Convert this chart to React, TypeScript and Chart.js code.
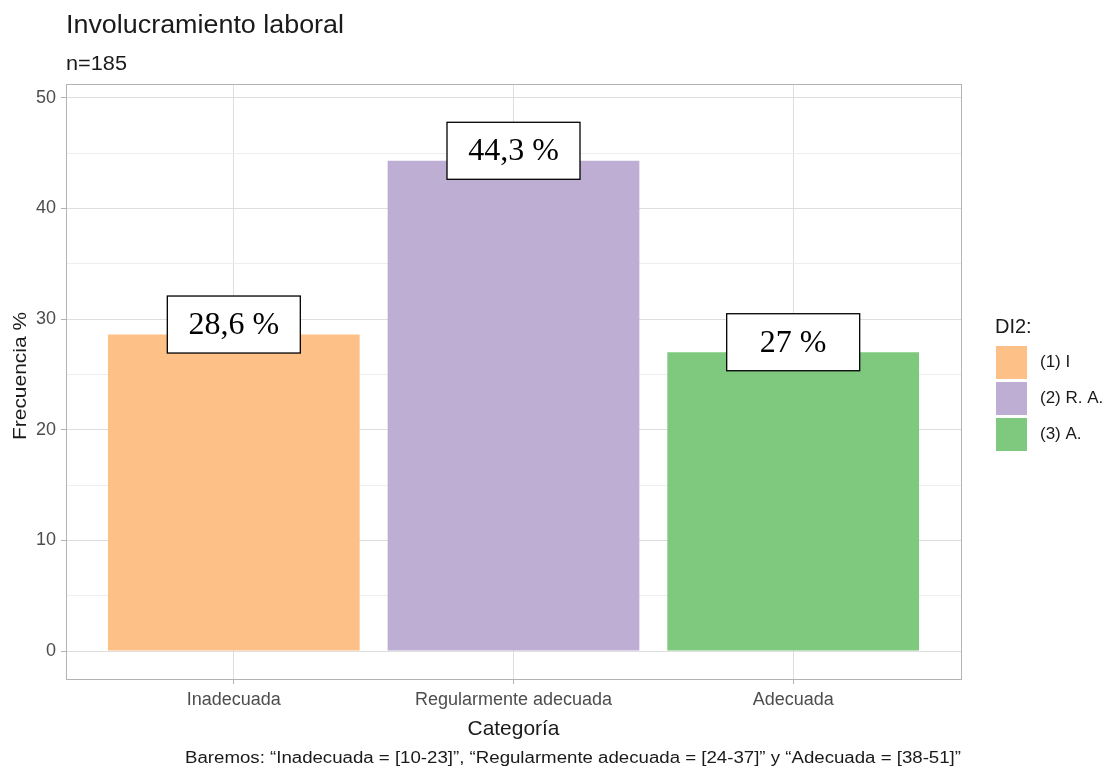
import { useEffect, useRef } from "react";
import { Chart, registerables } from "chart.js";

Chart.register(...registerables);

const title = "Involucramiento laboral";
const subtitle = "n=185";
const categories = ["Inadecuada", "Regularmente adecuada", "Adecuada"];
const values = [28.6, 44.3, 27.0];
const legendTitle = "DI2:";
const legendLabels = ["(1) I", "(2) R. A.", "(3) A."];
const barColors = ["#FDC086", "#BEAED4", "#7FC97F"];
const yTicks = [0, 5, 10, 15, 20, 25, 30, 35, 40, 45, 50];
const xTitle = "Categoría";
const yTitle = "Frecuencia %";
const caption =
  "Baremos: \u201CInadecuada = [10-23]\u201D, \u201CRegularmente adecuada = [24-37]\u201D y \u201CAdecuada = [38-51]\u201D";

const SANS = '"Liberation Sans", Arial, sans-serif';
const SERIF = '"Liberation Serif", "Times New Roman", serif';

function drawText(
  ctx: CanvasRenderingContext2D,
  s: string,
  x: number,
  y: number,
  font: string,
  color: string,
  align: CanvasTextAlign,
  width?: number,
  baseline: CanvasTextBaseline = "alphabetic"
) {
  ctx.save();
  ctx.font = font;
  ctx.fillStyle = color;
  ctx.textBaseline = baseline;
  ctx.textAlign = align;
  const w = ctx.measureText(s).width;
  const sx = width ? width / w : 1;
  ctx.translate(x, y);
  ctx.scale(sx, 1);
  ctx.fillText(s, 0, 0);
  ctx.restore();
}

const decorPlugin = {
  id: "decor",
  afterDatasetsDraw(chart: any) {
    const ctx: CanvasRenderingContext2D = chart.ctx;
    const meta = chart.getDatasetMeta(0);
    meta.data.forEach((el: any, i: number) => {
      const cx = el.x;
      const cy = el.y - 10;
      const w = 133;
      const h = 57;
      ctx.save();
      ctx.fillStyle = "#ffffff";
      ctx.strokeStyle = "#000000";
      ctx.lineWidth = 1.3;
      ctx.fillRect(cx - w / 2, cy - h / 2, w, h);
      ctx.strokeRect(cx - w / 2, cy - h / 2, w, h);
      ctx.restore();
      const label = String(values[i]).replace(".", ",") + " %";
      drawText(ctx, label, cx, cy + 1, `32px ${SERIF}`, "#000000", "center", undefined, "middle");
    });
  },
  afterDraw(chart: any) {
    const ctx: CanvasRenderingContext2D = chart.ctx;
    const a = chart.chartArea;
    // panel border
    ctx.save();
    ctx.strokeStyle = "#b3b3b3";
    ctx.lineWidth = 1;
    ctx.strokeRect(Math.round(a.left) + 0.5, Math.round(a.top) + 0.5, Math.round(a.right - a.left), Math.round(a.bottom - a.top));
    ctx.restore();

    // title & subtitle
    drawText(ctx, title, a.left, 33, `25px ${SANS}`, "#1a1a1a", "left", 278);
    drawText(ctx, subtitle, a.left, 70, `20px ${SANS}`, "#1a1a1a", "left", 61);

    // axis titles
    drawText(ctx, xTitle, (a.left + a.right) / 2, 735, `21px ${SANS}`, "#1a1a1a", "center", 92);
    ctx.save();
    ctx.translate(26, 376);
    ctx.rotate(-Math.PI / 2);
    drawText(ctx, yTitle, 0, 0, `19px ${SANS}`, "#1a1a1a", "center", 128);
    ctx.restore();

    // caption
    drawText(ctx, caption, a.right, 763, `16px ${SANS}`, "#1a1a1a", "right", 776);

    // legend
    drawText(ctx, legendTitle, 995, 333, `20px ${SANS}`, "#1a1a1a", "left");
    legendLabels.forEach((lab, i) => {
      const top = 346 + i * 36;
      ctx.save();
      ctx.fillStyle = barColors[i];
      ctx.fillRect(996, top, 31, 33);
      ctx.restore();
      drawText(ctx, lab, 1040, top + 16.5, `17px ${SANS}`, "#1a1a1a", "left", undefined, "middle");
    });
  },
};

export default function App() {
  const ref = useRef<HTMLCanvasElement | null>(null);

  useEffect(() => {
    document.body.style.margin = "0";
    const canvas = ref.current;
    if (!canvas) return;
    const chart = new Chart(canvas, {
      type: "bar",
      data: {
        datasets: [
          {
            data: values.map((v, i) => ({ x: i, y: v })),
            backgroundColor: barColors,
            borderWidth: 0,
            barPercentage: 0.9,
            categoryPercentage: 1,
          },
        ],
      },
      options: {
        animation: false,
        responsive: false,
        devicePixelRatio: 1,
        events: [],
        layout: { padding: { left: 0, right: 145, top: 84, bottom: 0 } },
        plugins: {
          legend: { display: false },
          title: { display: false },
          tooltip: { enabled: false },
        },
        scales: {
          x: {
            type: "linear",
            min: -0.6,
            max: 2.6,
            offset: false,
            afterBuildTicks: (s: any) => {
              s.ticks = categories.map((_, i) => ({ value: i }));
            },
            afterFit: (s: any) => {
              s.height = 90;
            },
            ticks: {
              callback: (v: any) => categories[v] ?? "",
              font: { family: SANS, size: 18 },
              color: "#4d4d4d",
              padding: 5,
              maxRotation: 0,
              autoSkip: false,
            },
            grid: {
              offset: false,
              color: "#dedede",
              tickColor: "#b3b3b3",
              tickLength: 5,
              lineWidth: 1,
            },
            border: { display: false },
          },
          y: {
            type: "linear",
            min: -2.53,
            max: 51.24,
            afterBuildTicks: (s: any) => {
              s.ticks = yTicks.map((v) => ({ value: v }));
            },
            afterFit: (s: any) => {
              s.width = 66;
            },
            ticks: {
              callback: (v: any) => (v % 10 === 0 ? String(v) : ""),
              font: { family: SANS, size: 18 },
              color: "#4d4d4d",
              padding: 5,
            },
            grid: {
              color: (c: any) => (c.tick && c.tick.value % 10 === 0 ? "#dedede" : "#eeeeee"),
              tickColor: (c: any) => (c.tick && c.tick.value % 10 === 0 ? "#b3b3b3" : "rgba(0,0,0,0)"),
              tickLength: 5,
              lineWidth: 1,
            },
            border: { display: false },
          },
        },
      } as any,
      plugins: [decorPlugin],
    });
    return () => chart.destroy();
  }, []);

  return (
    <div style={{ position: "relative", width: 1106, height: 769, background: "#fff" }}>
      <canvas ref={ref} width={1106} height={769} style={{ display: "block" }} />
    </div>
  );
}
